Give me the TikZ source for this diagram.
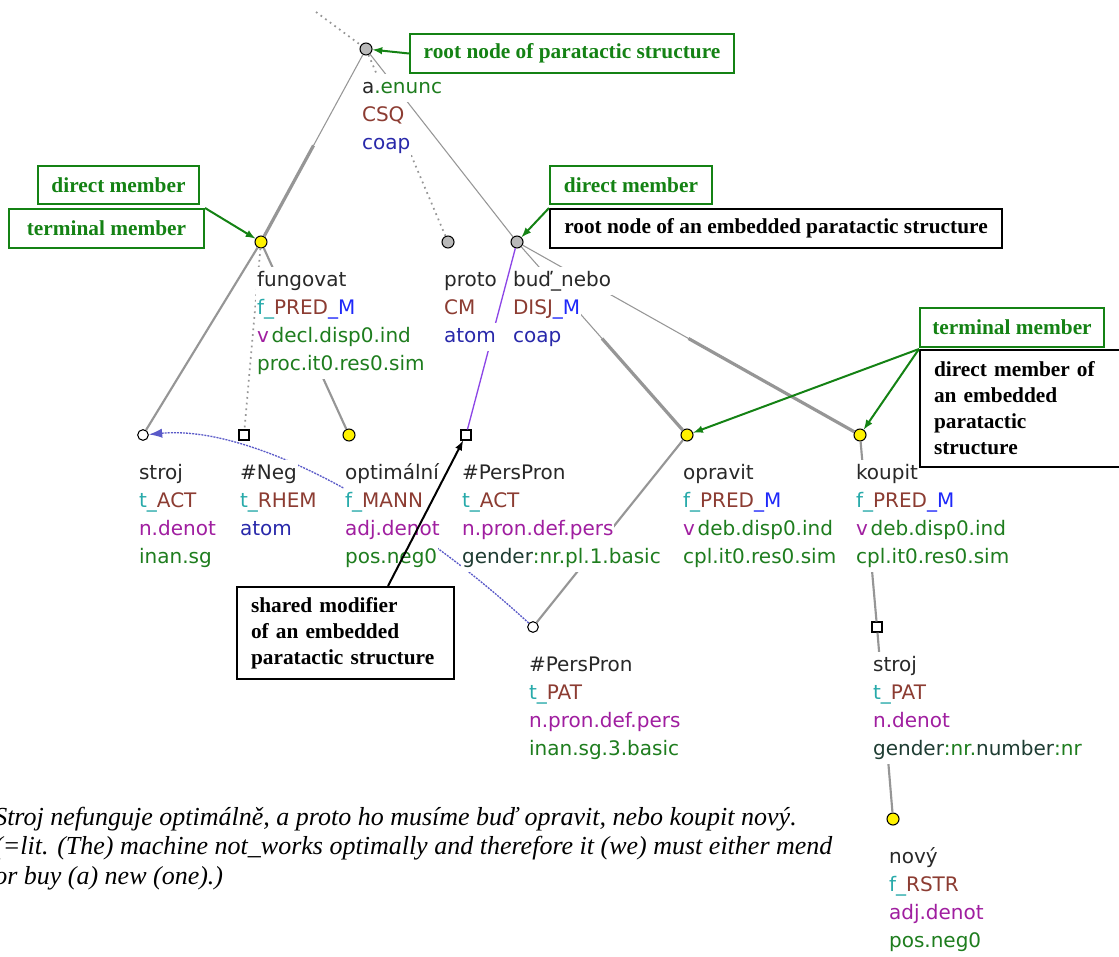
\documentclass[tikz,border=0pt]{standalone}
\usepackage{fontspec}
\setmainfont{Liberation Serif}
\newfontfamily\tredfont{DejaVu Sans}
\usepackage{tikz}
\usetikzlibrary{
  calc,%
  positioning,%
  arrows,
  arrows.meta
}
\definecolor{lemma}{RGB}{40,40,40}
\definecolor{tfun}{RGB}{40,170,170}
\definecolor{fun}{RGB}{140,60,50}
\definecolor{memb}{RGB}{30,40,250}
\definecolor{ntype}{RGB}{40,40,170}
\definecolor{sempos}{RGB}{160,30,160}
\definecolor{gram}{RGB}{30,125,30}
\definecolor{gdark}{RGB}{30,60,50}
\definecolor{boxgreen}{RGB}{20,130,20}
\definecolor{edgegray}{RGB}{150,150,150}
\definecolor{corefblue}{RGB}{90,90,200}
\definecolor{lilac}{RGB}{140,70,230}
\setlength{\fboxsep}{0pt}
% one line of a node label, on white
\newcommand{\tline}[1]{\colorbox{white}{\hspace{0.6pt}\strut#1\hspace{0.6pt}}}
\tikzset{>=latex}
\tikzset{
  cnode/.style={circle, draw, fill=gray!55, minimum size=9pt, inner sep=0pt, line width=0.8pt},
  ynode/.style={cnode, fill=yellow},
  wnode/.style={cnode, fill=white, minimum size=8pt},
  snode/.style={rectangle, draw, fill=white, minimum size=7.5pt, inner sep=0pt, line width=0.8pt},
  lbl/.style={anchor=north west, inner sep=0pt, align=left, font=\tredfont\fontsize{15}{21}\selectfont},
  thinedge/.style={edgegray, line width=0.8pt},
  thickedge/.style={edgegray, line width=2.4pt},
  midedge/.style={edgegray, line width=1.6pt},
  dotedge/.style={edgegray, line width=1.3pt, dash pattern=on 1.3pt off 3pt},
  gbox/.style={draw=boxgreen, text=boxgreen, line width=1.5pt, anchor=north west, inner sep=0pt,
    font=\bfseries\fontsize{16}{19.5}\selectfont},
  bbox/.style={gbox, draw=black, text=black},
  garrow/.style={->, boxgreen, line width=1.5pt},
  barrow/.style={->, black, line width=1.5pt},
  coref/.style={-{Latex[length=10pt,width=7pt]}, corefblue, line width=1pt, dash pattern=on 1.5pt off 0.8pt}
}
\begin{document}
\begin{tikzpicture}[x=0.75pt, y=-0.75pt]
  \useasboundingbox (0,0) rectangle (1119,956);
  % tree nodes
  \coordinate (top) at (316,12);
  \node[cnode] (root) at (366,49) {};
  \node[ynode] (fung) at (261,242) {};
  \node[cnode] (proto) at (448,242) {};
  \node[cnode] (bud) at (517,242) {};
  \node[wnode] (strojact) at (143,435) {};
  \node[snode] (neg) at (244,435) {};
  \node[ynode] (optim) at (349,435) {};
  \node[snode] (persact) at (466,435) {};
  \node[ynode] (oprav) at (687,435) {};
  \node[ynode] (koup) at (860,435) {};
  \node[wnode] (perspat) at (533,627) {};
  \node[snode] (strojpat) at (877,627) {};
  \node[ynode] (novy) at (893,819) {};

  % edges
  \draw[dotedge] (top) -- (root);
  \draw[thinedge] (root) -- (fung);
  \draw[thickedge] ($(root)!0.5!(fung)$) -- (fung);
  \draw[dotedge] (root) -- (proto);
  \draw[thinedge] (root) -- (bud);
  \draw[midedge] (fung) -- (strojact);
  \draw[dotedge] (fung) -- (neg);
  \draw[midedge] (fung) -- (optim);
  \draw[lilac, line width=1pt] (bud) -- (persact);
  \draw[thinedge] (bud) -- (oprav);
  \draw[thickedge] ($(bud)!0.5!(oprav)$) -- (oprav);
  \draw[thinedge] (bud) -- (koup);
  \draw[thickedge] ($(bud)!0.5!(koup)$) -- (koup);
  \draw[midedge] (oprav) -- (perspat);
  \draw[midedge] (koup) -- (strojpat);
  \draw[midedge] (strojpat) -- (novy);
  \draw[coref] (perspat) .. controls (400,505) and (250,425) .. (strojact);

  % labels
  \node[lbl] (rootl) at ($(root)+(-5,25)$) {\tline{\textcolor{lemma}{a}\textcolor{gram}{.enunc}}\\
    \tline{\textcolor{fun}{CSQ}}\\ \tline{\textcolor{ntype}{coap}}};
  \node[lbl] (fungl) at ($(fung)+(-5,25)$) {\tline{\textcolor{lemma}{fungovat}}\\
    \tline{\textcolor{tfun}{f\_}\textcolor{fun}{PRED}\textcolor{memb}{\_M}}\\
    \tline{\textcolor{sempos}{v}\hspace{2pt}\textcolor{gram}{decl.disp0.ind}}\\
    \tline{\textcolor{gram}{proc.it0.res0.sim}}};
  \node[lbl] (protol) at ($(proto)+(-5,25)$) {\tline{\textcolor{lemma}{proto}}\\
    \tline{\textcolor{fun}{CM}}\\ \tline{\textcolor{ntype}{atom}}};
  \node[lbl] (budl) at ($(bud)+(-5,25)$) {\tline{\textcolor{lemma}{buď\_nebo}}\\
    \tline{\textcolor{fun}{DISJ}\textcolor{memb}{\_M}}\\ \tline{\textcolor{ntype}{coap}}};
  \node[lbl] (strojactl) at ($(strojact)+(-5,25)$) {\tline{\textcolor{lemma}{stroj}}\\
    \tline{\textcolor{tfun}{t\_}\textcolor{fun}{ACT}}\\
    \tline{\textcolor{sempos}{n.denot}}\\ \tline{\textcolor{gram}{inan.sg}}};
  \node[lbl] (negl) at ($(neg)+(-5,25)$) {\tline{\textcolor{lemma}{\#Neg}}\\
    \tline{\textcolor{tfun}{t\_}\textcolor{fun}{RHEM}}\\ \tline{\textcolor{ntype}{atom}}};
  \node[lbl] (optiml) at ($(optim)+(-5,25)$) {\tline{\textcolor{lemma}{optimální}}\\
    \tline{\textcolor{tfun}{f\_}\textcolor{fun}{MANN}}\\
    \tline{\textcolor{sempos}{adj.denot}}\\ \tline{\textcolor{gram}{pos.neg0}}};
  \node[lbl] (persactl) at ($(persact)+(-5,25)$) {\tline{\textcolor{lemma}{\#PersPron}}\\
    \tline{\textcolor{tfun}{t\_}\textcolor{fun}{ACT}}\\
    \tline{\textcolor{sempos}{n.pron.def.pers}}\\
    \tline{\textcolor{gdark}{gender}\textcolor{gram}{:nr.pl.1.basic}}};
  \node[lbl] (opravl) at ($(oprav)+(-5,25)$) {\tline{\textcolor{lemma}{opravit}}\\
    \tline{\textcolor{tfun}{f\_}\textcolor{fun}{PRED}\textcolor{memb}{\_M}}\\
    \tline{\textcolor{sempos}{v}\hspace{2pt}\textcolor{gram}{deb.disp0.ind}}\\
    \tline{\textcolor{gram}{cpl.it0.res0.sim}}};
  \node[lbl] (koupl) at ($(koup)+(-5,25)$) {\tline{\textcolor{lemma}{koupit}}\\
    \tline{\textcolor{tfun}{f\_}\textcolor{fun}{PRED}\textcolor{memb}{\_M}}\\
    \tline{\textcolor{sempos}{v}\hspace{2pt}\textcolor{gram}{deb.disp0.ind}}\\
    \tline{\textcolor{gram}{cpl.it0.res0.sim}}};
  \node[lbl] (perspatl) at ($(perspat)+(-5,25)$) {\tline{\textcolor{lemma}{\#PersPron}}\\
    \tline{\textcolor{tfun}{t\_}\textcolor{fun}{PAT}}\\
    \tline{\textcolor{sempos}{n.pron.def.pers}}\\ \tline{\textcolor{gram}{inan.sg.3.basic}}};
  \node[lbl] (strojpatl) at ($(strojpat)+(-5,25)$) {\tline{\textcolor{lemma}{stroj}}\\
    \tline{\textcolor{tfun}{t\_}\textcolor{fun}{PAT}}\\
    \tline{\textcolor{sempos}{n.denot}}\\
    \tline{\textcolor{gdark}{gender}\textcolor{gram}{:nr.}\textcolor{gdark}{number}\textcolor{gram}{:nr}}};
  \node[lbl] (novyl) at ($(novy)+(-5,25)$) {\tline{\textcolor{lemma}{nový}}\\
    \tline{\textcolor{tfun}{f\_}\textcolor{fun}{RSTR}}\\
    \tline{\textcolor{sempos}{adj.denot}}\\ \tline{\textcolor{gram}{pos.neg0}}};

  % callouts
  \node[gbox, minimum width=243pt, minimum height=29.25pt] (rootbox) at (409,33) {root node of paratactic structure};
  \node[gbox, minimum width=120.75pt, minimum height=28.5pt] (dirleft) at (37,165) {direct member};
  \node[gbox, minimum width=146.25pt, minimum height=29.25pt] (termleft) at (8,208) {terminal member};
  \node[gbox, minimum width=121.5pt, minimum height=28.5pt] (dirmid) at (549,165) {direct member};
  \node[bbox, minimum width=339pt, minimum height=29.25pt] (embroot) at (549,208) {root node of an embedded paratactic structure};
  \node[gbox, minimum width=138pt, minimum height=29.25pt] (termright) at (919,307) {terminal member};
  \node[bbox, align=left, text width=129pt, inner xsep=10.5pt, minimum height=87.75pt] (embmemb) at (919,349)
    {direct member of\\ an embedded\\ paratactic\\ structure};
  \node[bbox, align=left, text width=141.75pt, inner xsep=10.5pt, minimum height=69pt] (shared) at (236,586)
    {shared modifier\\ of an embedded\\ paratactic structure};

  \draw[garrow] (rootbox.west) -- (root);
  \draw[garrow] (termleft.north east) -- (fung);
  \draw[garrow] (embroot.north west) -- (bud);
  \draw[garrow] (embmemb.north west) -- (oprav);
  \draw[garrow] (embmemb.north west) -- (koup);
  \draw[barrow] ($(shared.north west)+(152,0)$) -- (persact);

  % sentence
  \node[anchor=north west, align=left, inner sep=0pt, font=\itshape\fontsize{19.5}{22}\selectfont] (gloss) at (-6,807)
    {Stroj nefunguje optimálně, a proto ho musíme buď opravit, nebo koupit nový.\\
     (=lit. (The) machine not\_works optimally and therefore it (we) must either mend\\
     or buy (a) new (one).)};
\end{tikzpicture}
\end{document}
